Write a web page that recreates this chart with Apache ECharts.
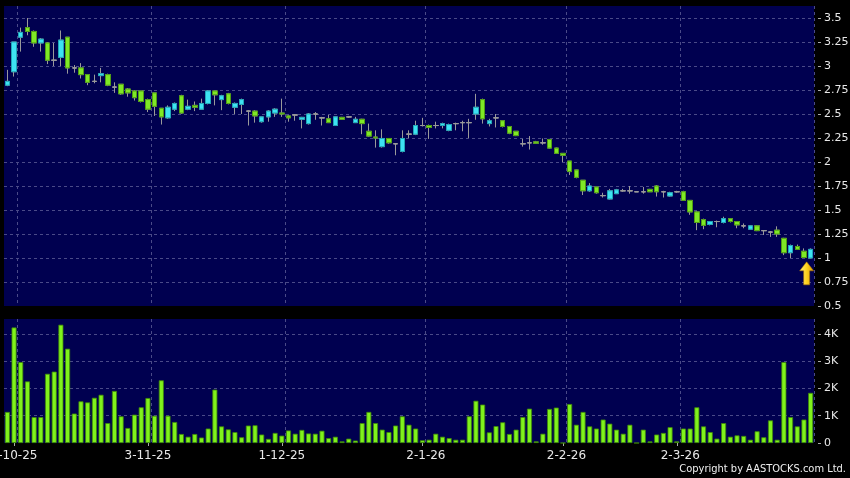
<!DOCTYPE html>
<html><head><meta charset="utf-8">
<script src="https://cdn.jsdelivr.net/npm/echarts@6/dist/echarts.min.js"></script>
<style>html,body{margin:0;padding:0;background:#000}#c{width:850px;height:478px}</style>
</head><body><div id="c"></div>
<script>
// ---- data ----
const startDate = '2025-09-30';
const dayCount = 121;
const holidays = ['2025-10-01','2025-10-07','2025-10-29','2025-12-25','2025-12-26','2026-01-01','2026-02-17','2026-02-18','2026-02-19'];
const labelDates = ['2-10-25','3-11-25','1-12-25','2-1-26','2-2-26','2-3-26'];
const opens  = [2.80,2.94,3.30,3.40,3.36,3.24,3.24,3.06,3.09,3.30,2.98,2.98,2.91,2.84,2.90,2.91,2.78,2.81,2.76,2.74,
                2.74,2.65,2.72,2.56,2.46,2.55,2.69,2.55,2.59,2.55,2.61,2.74,2.65,2.71,2.57,2.60,2.53,2.53,2.42,2.47,
                2.51,2.51,2.48,2.49,2.445,2.40,2.50,2.46,2.45,2.38,2.465,2.47,2.41,2.445,2.32,2.26,2.16,2.245,2.19,2.11,
                2.29,2.29,2.38,2.38,2.38,2.38,2.33,2.40,2.41,2.41,2.50,2.65,2.40,2.46,2.43,2.37,2.32,2.19,2.20,2.21,
                2.20,2.235,2.145,2.09,2.01,1.917,1.81,1.70,1.74,1.65,1.615,1.67,1.70,1.70,1.69,1.69,1.715,1.75,1.69,1.646,
                1.69,1.69,1.60,1.48,1.40,1.35,1.38,1.37,1.41,1.38,1.335,1.30,1.335,1.285,1.27,1.29,1.205,1.055,1.12,1.07,
                1.00];
const closes = [2.84,3.25,3.35,3.36,3.24,3.28,3.06,3.06,3.27,2.98,2.98,2.91,2.83,2.84,2.92,2.80,2.78,2.71,2.72,2.67,
                2.63,2.55,2.58,2.47,2.57,2.61,2.51,2.58,2.57,2.61,2.74,2.70,2.69,2.61,2.61,2.65,2.53,2.48,2.47,2.53,
                2.55,2.50,2.46,2.49,2.465,2.50,2.50,2.46,2.41,2.47,2.445,2.47,2.445,2.40,2.27,2.25,2.245,2.20,2.19,2.245,
                2.29,2.38,2.38,2.36,2.38,2.40,2.39,2.40,2.41,2.41,2.57,2.45,2.43,2.46,2.37,2.30,2.275,2.19,2.20,2.195,
                2.20,2.145,2.09,2.07,1.90,1.84,1.70,1.75,1.68,1.65,1.70,1.71,1.70,1.70,1.69,1.69,1.69,1.69,1.69,1.68,
                1.69,1.60,1.48,1.37,1.34,1.38,1.38,1.41,1.38,1.345,1.335,1.335,1.285,1.285,1.27,1.25,1.055,1.13,1.09,1.005,
                1.09];
const lows   = [2.79,2.89,3.15,3.32,3.20,3.15,3.02,3.00,3.00,2.92,2.93,2.87,2.80,2.82,2.83,2.79,2.72,2.70,2.68,2.64,
                2.62,2.52,2.48,2.39,2.45,2.53,2.50,2.54,2.53,2.55,2.60,2.59,2.54,2.60,2.50,2.50,2.38,2.41,2.41,2.42,
                2.47,2.47,2.42,2.43,2.35,2.39,2.44,2.38,2.41,2.38,2.44,2.46,2.41,2.29,2.26,2.15,2.15,2.19,2.07,2.10,
                2.25,2.28,2.37,2.24,2.35,2.35,2.32,2.33,2.32,2.25,2.44,2.40,2.37,2.36,2.36,2.29,2.27,2.16,2.13,2.19,
                2.18,2.14,2.09,2.00,1.865,1.83,1.656,1.69,1.67,1.63,1.61,1.67,1.69,1.67,1.69,1.67,1.69,1.64,1.63,1.64,
                1.68,1.60,1.45,1.29,1.30,1.34,1.32,1.36,1.37,1.31,1.31,1.30,1.28,1.24,1.22,1.22,1.03,1.00,1.09,1.00,
                1.00];
const highs  = [2.96,3.25,3.40,3.50,3.37,3.29,3.25,3.24,3.37,3.30,3.01,3.03,2.91,2.91,2.98,2.92,2.83,2.81,2.77,2.75,
                2.74,2.66,2.72,2.56,2.59,2.62,2.70,2.65,2.63,2.66,2.75,2.74,2.70,2.72,2.62,2.66,2.54,2.54,2.47,2.54,
                2.56,2.66,2.49,2.50,2.47,2.51,2.52,2.47,2.49,2.47,2.47,2.48,2.47,2.45,2.40,2.33,2.34,2.25,2.19,2.33,
                2.33,2.43,2.46,2.39,2.42,2.41,2.40,2.41,2.43,2.45,2.71,2.66,2.45,2.50,2.43,2.37,2.32,2.24,2.27,2.22,
                2.245,2.24,2.15,2.09,2.01,1.92,1.81,1.78,1.74,1.68,1.72,1.72,1.72,1.75,1.69,1.74,1.72,1.76,1.70,1.69,
                1.70,1.70,1.60,1.49,1.41,1.38,1.39,1.43,1.41,1.38,1.36,1.34,1.34,1.29,1.28,1.33,1.21,1.14,1.14,1.10,
                1.10];
const volumesK = [1.14,4.24,2.97,2.26,0.95,0.95,2.54,2.62,4.34,3.46,1.08,1.53,1.49,1.66,1.77,0.73,1.91,0.98,0.55,1.04,
                1.31,1.65,1.00,2.30,1.00,0.77,0.33,0.23,0.33,0.20,0.53,1.96,0.61,0.50,0.40,0.21,0.64,0.65,0.31,0.15,
                0.37,0.27,0.46,0.34,0.48,0.35,0.34,0.45,0.18,0.23,0.06,0.16,0.09,0.73,1.14,0.73,0.49,0.40,0.64,0.98,
                0.67,0.53,0.10,0.12,0.34,0.23,0.18,0.12,0.12,0.98,1.55,1.41,0.39,0.62,0.76,0.33,0.49,0.95,1.26,0.06,
                0.34,1.25,1.30,0,1.43,0.67,1.14,0.61,0.53,0.86,0.71,0.49,0.34,0.67,0,0.49,0.06,0.31,0.37,0.58,
                0.06,0.53,0.53,1.31,0.61,0.40,0.16,0.73,0.23,0.28,0.26,0.12,0.43,0.21,0.83,0.12,2.97,0.95,0.61,0.86,
                1.84];
const arrowPrice = 0.84;
const copyrightText = 'Copyright by AASTOCKS.com Ltd.';

// ---- trading-day categories ----
function buildDates(start, n, hol) {
  const out = []; const d = new Date(start + 'T00:00:00Z');
  while (out.length < n) {
    const wd = d.getUTCDay();
    const iso = d.toISOString().slice(0, 10);
    if (wd !== 0 && wd !== 6 && hol.indexOf(iso) < 0) {
      out.push(d.getUTCDate() + '-' + (d.getUTCMonth() + 1) + '-' + String(d.getUTCFullYear()).slice(2));
    }
    d.setUTCDate(d.getUTCDate() + 1);
  }
  return out;
}
const categories = buildDates(startDate, dayCount, holidays);
const isLabel = (i) => labelDates.indexOf(categories[i]) >= 0;
const isGrid = (i) => i > 0 && isLabel(i - 1);

const ohlc = categories.map((_, i) => [opens[i], closes[i], lows[i], highs[i]]);
const bodies = categories.map((_, i) => [opens[i], closes[i], Math.min(opens[i], closes[i]), Math.max(opens[i], closes[i])]);

const NAVY = '#000050', GRIDC = '#4a4a88', CYAN = '#3ee2f2', GREEN = '#7fe826', GRAY = '#9a9a9a';
const FONT = 'DejaVu Sans';
const splitStyle = { show: true, lineStyle: { color: GRIDC, type: [3, 3], width: 1 } };

const chart = echarts.init(document.getElementById('c'), null, { renderer: 'canvas' });
chart.setOption({
  backgroundColor: '#000',
  animation: false,
  grid: [
    { left: 4, right: 36, top: 6, height: 300, show: true, backgroundColor: NAVY, borderWidth: 0, containLabel: false, outerBoundsMode: 'none' },
    { left: 4, right: 36, top: 319, height: 124, show: true, backgroundColor: NAVY, borderWidth: 0, containLabel: false, outerBoundsMode: 'none' }
  ],
  xAxis: [
    { type: 'category', gridIndex: 0, data: categories, boundaryGap: true,
      axisLine: { show: false }, axisTick: { show: false }, axisLabel: { show: false },
      splitLine: Object.assign({ interval: (i) => isGrid(i) }, splitStyle) },
    { type: 'category', gridIndex: 1, data: categories, boundaryGap: true, offset: 3,
      axisLine: { show: false },
      axisTick: { show: true, alignWithLabel: true, length: 3, interval: (i) => isLabel(i), lineStyle: { color: '#aaa' } },
      axisLabel: { show: true, interval: (i) => isLabel(i), color: '#e8e8e8', fontFamily: FONT, fontSize: 12, margin: 4,
        formatter: (v, i) => (i > 50 ? '{s|' + v + '}' : v),
        rich: { s: { padding: [0, 0, 0, 7], color: '#e8e8e8', fontFamily: FONT, fontSize: 12 } } },
      splitLine: Object.assign({ interval: (i) => isGrid(i) }, splitStyle) }
  ],
  yAxis: [
    { type: 'value', gridIndex: 0, position: 'right', min: 0.5, max: 3.625, interval: 0.25, offset: 4,
      axisLine: { show: false }, axisTick: { show: true, length: 3, lineStyle: { color: '#aaa' } },
      axisLabel: { color: '#e8e8e8', fontFamily: FONT, fontSize: 11, margin: 6, showMaxLabel: false },
      splitLine: Object.assign({ showMinLine: false, showMaxLine: false }, splitStyle) },
    { type: 'value', gridIndex: 1, position: 'right', min: 0, max: 4.55, interval: 1, offset: 4,
      axisLine: { show: false }, axisTick: { show: true, length: 3, lineStyle: { color: '#aaa' } },
      axisLabel: { color: '#e8e8e8', fontFamily: FONT, fontSize: 11, margin: 6, showMaxLabel: false,
        formatter: (v) => (v === 0 ? '0' : v + 'K') },
      splitLine: Object.assign({ showMinLine: false, showMaxLine: false }, splitStyle) }
  ],
  series: [
    { name: 'wick', type: 'candlestick', xAxisIndex: 0, yAxisIndex: 0, data: ohlc, barWidth: 5,
      itemStyle: { color: GRAY, color0: GRAY, borderColor: GRAY, borderColor0: GRAY, borderColorDoji: GRAY, borderWidth: 1 } },
    { name: 'body', type: 'candlestick', xAxisIndex: 0, yAxisIndex: 0, data: bodies, barWidth: 5,
      itemStyle: { color: CYAN, color0: GREEN, borderColor: '#1fa6b8', borderColor0: '#4f9e12', borderColorDoji: GRAY, borderWidth: 1 },
      markPoint: {
        symbol: 'path://M7,0 L14,9 L10,9 L10,23 L4,23 L4,9 L0,9 Z', symbolSize: [14, 23], symbolOffset: [-4, 0],
        label: { show: false },
        itemStyle: { color: new echarts.graphic.LinearGradient(0, 0, 1, 0, [{ offset: 0, color: '#fff27a' }, { offset: 0.5, color: '#ffd21e' }, { offset: 1, color: '#d99a00' }]),
          borderColor: '#a86a00', borderWidth: 0.5 },
        data: [{ coord: [categories[categories.length - 1], arrowPrice] }]
      } },
    { name: 'vol', type: 'bar', xAxisIndex: 1, yAxisIndex: 1, data: volumesK, barWidth: 5,
      itemStyle: { color: '#80f21c', borderColor: '#3f8a08', borderWidth: 0.8 } }
  ],
  graphic: [
    { type: 'text', right: 4, top: 464, style: { text: copyrightText, fill: '#f0f0f0', font: '11px "DejaVu Sans Condensed", "DejaVu Sans"' } }
  ]
});
</script></body></html>
